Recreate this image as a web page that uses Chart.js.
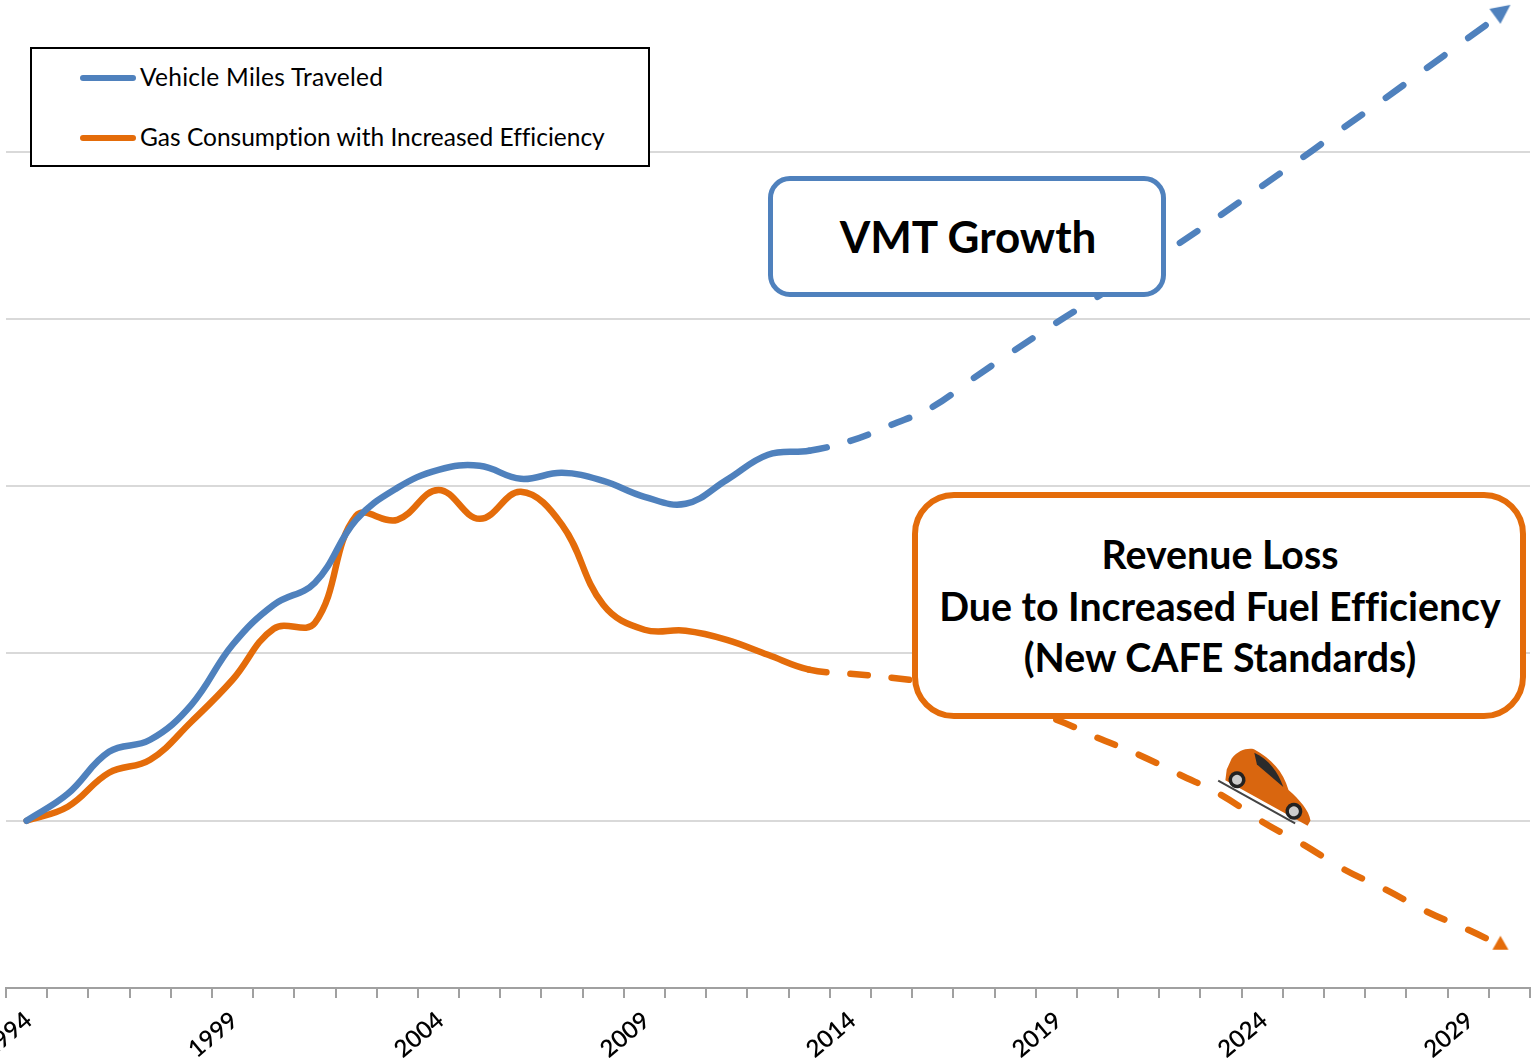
<!DOCTYPE html>
<html>
<head>
<meta charset="utf-8">
<title>VMT and gas consumption</title>
<script src="https://cdn.jsdelivr.net/npm/chart.js@4/dist/chart.umd.min.js"></script>
<style>
  html, body { margin: 0; padding: 0; background: #fff; overflow: hidden; }
  #wrap { position: relative; width: 1533px; height: 1063px; font-family: Lato, "Open Sans", sans-serif; color: #000; font-variant-ligatures: none; }
  #grafico { position: absolute; left: 0; top: 0; }
  .legend { position: absolute; left: 30px; top: 47px; width: 616px; height: 116px; border: 2px solid #000; background: #fff; }
  .legend .row { position: absolute; left: 48px; height: 30px; line-height: 30px; font-size: 24.5px; white-space: nowrap; }
  .legend .swatch { display: inline-block; width: 56px; height: 6px; border-radius: 3px; vertical-align: middle; margin-right: 4px; position: relative; top: -2px; }
  .callout { position: absolute; box-sizing: border-box; background: #fff; text-align: center; font-weight: 700; display: flex; align-items: center; justify-content: center; }
  #vmt { left: 768px; top: 176px; width: 398px; height: 121px; border: 5px solid #4f81bd; border-radius: 22px; font-size: 44px; padding: 0 0 2px 2px; }
  #loss { left: 912px; top: 492px; width: 614px; height: 227px; border: 6px solid #e46c0a; border-radius: 42px; font-size: 39.3px; line-height: 51.5px; white-space: nowrap; padding: 0 0 0 2px; }
  #car { position: absolute; left: 1215px; top: 745px; }
</style>
</head>
<body>
<div id="wrap">
  <canvas id="grafico" width="1533" height="1063"></canvas>
  <div class="legend" id="leyenda"></div>
  <div class="callout" id="vmt">VMT Growth</div>
  <div class="callout" id="loss"><div>Revenue Loss<br>Due to Increased Fuel Efficiency<br>(New CAFE Standards)</div></div>
  <svg id="car" width="105" height="85" viewBox="0 0 105 85">
    <g transform="translate(23 33) rotate(29)">
      <path d="M-16 12 L72 12" stroke="#444" stroke-width="2"/>
      <path d="M-14 -2 L-15 -14 C-13 -24 -8 -30 0 -33 C20 -33 36 -28 50 -14 C64 -11 78 -6 84 2 L84 8 L-10 8 Z" fill="#d9660f"/>
      <path d="M2 -30 C18 -31 32 -25 44 -14 L10 -21 Z" fill="#2b2b2b"/>
      <circle cx="0" cy="2" r="8.5" fill="#222"/><circle cx="0" cy="2" r="5" fill="#ccc"/>
      <circle cx="65" cy="2" r="8.5" fill="#222"/><circle cx="65" cy="2" r="5" fill="#ccc"/>
    </g>
  </svg>
</div>
<script>
const years = [];
for (let y = 1994; y <= 2030; y += 1) years.push(String(y));

const vmtName = "Vehicle Miles Traveled";
const gasName = "Gas Consumption with Increased Efficiency";

const vmt = [100, 101.61, 104.12, 104.84, 106.93, 110.52, 112.91, 114.23, 117.99, 119.9,
  120.98, 121.22, 120.44, 120.8, 120.32, 119.37, 118.95, 120.38, 121.88, 122.12,
  122.71, 123.67, 124.75, 126.48, 128.15, 129.77, 131.32, 132.94, 134.55, 136.22,
  137.96, 139.69, 141.48, 143.22, 145.01, 146.8, 148.6];

const gas = [100, 100.84, 102.87, 103.65, 105.92, 108.43, 111.48, 111.83, 118.23, 117.99,
  119.78, 118.05, 119.67, 117.69, 112.91, 111.42, 111.36, 110.82, 109.92, 109.03,
  108.79, 108.55, 108.19, 107.53, 106.75, 106.04, 104.96, 103.95, 102.75, 101.55,
  99.94, 98.57, 97.07, 95.88, 94.56, 93.48, 92.29];

const BLUE = "#4f81bd";
const ORANGE = "#e46c0a";
const LAST_ACTUAL = 19; // 2013, dashed from here on

// arrow head, drawn a little behind the last point like in the original
const arrowHead = (color, corners) => {
  const c = document.createElement("canvas");
  c.width = 60;
  c.height = 60;
  const g = c.getContext("2d");
  g.fillStyle = color;
  g.beginPath();
  corners.forEach((p, i) => (i ? g.lineTo(30 + p[0], 30 + p[1]) : g.moveTo(30 + p[0], 30 + p[1])));
  g.closePath();
  g.fill();
  return c;
};

const blueArrow = arrowHead(BLUE, [[-20, 1], [1, -3], [-9, 16]]);
const orangeArrow = arrowHead(ORANGE, [[-17, 0], [-1, 0], [-9, -14]]);

// one dash per year: each segment gets its own pattern so the dash restarts at the point
const yearDash = (ctx) => {
  if (ctx.p0DataIndex < LAST_ACTUAL) return undefined;
  const len = Math.hypot(ctx.p1.x - ctx.p0.x, ctx.p1.y - ctx.p0.y);
  return [0.42 * len + ctx.p0DataIndex * 0.001, 2 * len];
};

const serie = (label, data, color, arrow) => ({
  label: label,
  data: data,
  borderColor: color,
  backgroundColor: color,
  borderWidth: 6.5,
  borderCapStyle: "round",
  tension: 0.4,
  pointStyle: (ctx) => (ctx.dataIndex === data.length - 1 ? arrow : false),
  pointRadius: (ctx) => (ctx.dataIndex === data.length - 1 ? 12 : 0),
  pointHoverRadius: 0,
  clip: false,
  segment: { borderDash: yearDash },
});

new Chart(document.getElementById("grafico"), {
  type: "line",
  data: {
    labels: years,
    datasets: [serie(vmtName, vmt, BLUE, blueArrow), serie(gasName, gas, ORANGE, orangeArrow)],
  },
  options: {
    responsive: false,
    animation: false,
    layout: { autoPadding: false, padding: { left: 6, right: 3, top: 0, bottom: 0 } },
    plugins: { legend: { display: false }, tooltip: { enabled: false } },
    scales: {
      x: {
        type: "category",
        offset: true,
        afterFit: (scale) => {
          scale.height = 75;
          scale.paddingLeft = 0;
          scale.paddingRight = 0;
        },
        border: { color: "#a0a0a0", width: 2 },
        grid: { offset: true, drawOnChartArea: false, color: "#a0a0a0", lineWidth: 2, tickLength: 10 },
        ticks: {
          autoSkip: false,
          minRotation: 40,
          maxRotation: 40,
          padding: 8,
          labelOffset: 2,
          color: "#000",
          font: { family: "Lato", size: 24, weight: "600" },
          callback: function (value, index) {
            return index % 5 === 0 ? this.getLabelForValue(value) : "";
          },
        },
      },
      y: {
        min: 90,
        max: 149.07,
        border: { display: false },
        grid: { color: "#d9d9d9", lineWidth: 2, drawTicks: false },
        ticks: { display: false, stepSize: 10, includeBounds: false },
      },
    },
  },
});

// legend box
const leyenda = document.getElementById("leyenda");
[[vmtName, BLUE, 13, "0.27px"], [gasName, ORANGE, 73, "0"]].forEach(([name, color, top, spacing]) => {
  const row = document.createElement("div");
  row.className = "row";
  row.style.top = top + "px";
  row.style.letterSpacing = spacing;
  const swatch = document.createElement("span");
  swatch.className = "swatch";
  swatch.style.background = color;
  row.appendChild(swatch);
  row.appendChild(document.createTextNode(name));
  leyenda.appendChild(row);
});
</script>
</body>
</html>
